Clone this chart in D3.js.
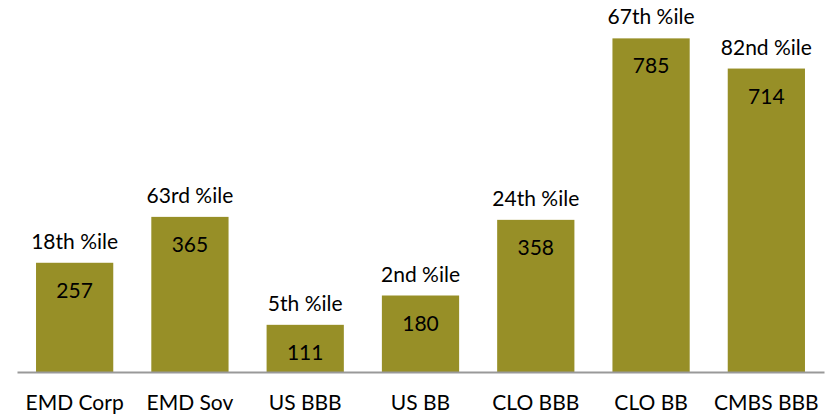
<!DOCTYPE html>
<html>
<head>
<meta charset="utf-8">
<script src="https://cdn.jsdelivr.net/npm/d3@7"></script>
<style>
  body { margin: 0; background: #fff; }
  text { font-family: Lato, "Open Sans", sans-serif; fill: #000; }
</style>
</head>
<body>
<svg id="chart"></svg>
<script>
// data
const categories = ['EMD Corp', 'EMD Sov', 'US BBB', 'US BB', 'CLO BBB', 'CLO BB', 'CMBS BBB'];
const spreads = [257, 365, 111, 180, 358, 785, 714];
const percentiles = ['18th %ile', '63rd %ile', '5th %ile', '2nd %ile', '24th %ile', '67th %ile', '82nd %ile'];

// sizes
let width = 828;
let height = 415;
let baseline = 372;
let fontSize = 21;
let barColor = '#978F27';

let svg = d3.select('#chart')
    .attr('width', width)
    .attr('height', height);

let xScale = d3.scaleBand()
    .domain(categories)
    .range([17, 824])
    .paddingInner(0.33)
    .paddingOuter(0.165);

let yScale = d3.scaleLinear()
    .domain([0, 800])
    .range([baseline, baseline - 340]);

let rows = categories.map((c, i) => ({ cat: c, value: spreads[i], pct: percentiles[i] }));

// bars
svg.append('g')
    .selectAll('rect')
    .data(rows)
    .enter()
    .append('rect')
    .attr('x', d => xScale(d.cat))
    .attr('y', d => yScale(d.value))
    .attr('width', xScale.bandwidth())
    .attr('height', d => baseline - yScale(d.value))
    .style('fill', barColor);

// baseline axis
let xAxis = svg.append('g')
    .attr('transform', `translate(0, ${baseline})`)
    .call(d3.axisBottom(xScale).tickSize(0).tickPadding(0))
    .call(g => g.select('.domain')
        .attr('stroke', '#999999')
        .attr('stroke-width', 2))
    .call(g => g.selectAll('.tick text')
        .attr('y', 38)
        .attr('dy', 0)
        .style('font-size', fontSize + 'px')
        .style('font-family', 'Lato, "Open Sans", sans-serif')
        .style('fill', '#000'));

// value labels inside bars
svg.append('g')
    .selectAll('text')
    .data(rows)
    .enter()
    .append('text')
    .attr('x', d => xScale(d.cat) + xScale.bandwidth() / 2)
    .attr('y', d => yScale(d.value) + 35)
    .attr('text-anchor', 'middle')
    .style('font-size', fontSize + 'px')
    .text(d => d.value);

// percentile labels above bars
svg.append('g')
    .selectAll('text')
    .data(rows)
    .enter()
    .append('text')
    .attr('x', d => xScale(d.cat) + xScale.bandwidth() / 2)
    .attr('y', d => yScale(d.value) - 14)
    .attr('text-anchor', 'middle')
    .style('font-size', fontSize + 'px')
    .text(d => d.pct);
</script>
</body>
</html>
